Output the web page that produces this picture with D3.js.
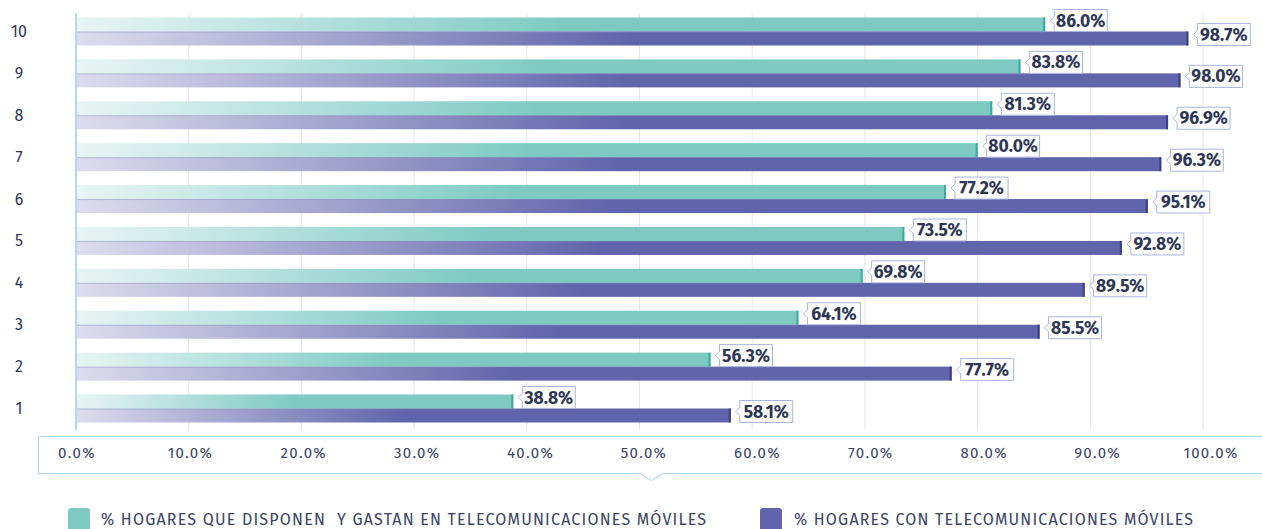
<!DOCTYPE html>
<html>
<head>
<meta charset="utf-8">
<script src="https://cdn.jsdelivr.net/npm/d3@7.9.0/dist/d3.min.js"></script>
<style>
  html, body { margin: 0; padding: 0; background: #fff; }
  svg { display: block; font-family: "Fira Sans", Lato, "Noto Sans", sans-serif; }
</style>
</head>
<body>
<svg id="chart" width="1262" height="529"></svg>
<script>
const categories = ['10', '9', '8', '7', '6', '5', '4', '3', '2', '1'];
const disponenGastan = [86.0, 83.8, 81.3, 80.0, 77.2, 73.5, 69.8, 64.1, 56.3, 38.8];
const conMoviles = [98.7, 98.0, 96.9, 96.3, 95.1, 92.8, 89.5, 85.5, 77.7, 58.1];
const xTicks = [0, 10, 20, 30, 40, 50, 60, 70, 80, 90, 100];
const seriesNames = [
  '% HOGARES QUE DISPONEN  Y GASTAN EN TELECOMUNICACIONES MÓVILES',
  '% HOGARES CON TELECOMUNICACIONES MÓVILES',
];

const teal = '#7ecac3';
const purple = '#6064aa';
const textColor = '#2e3656';

const svg = d3.select('#chart');

const x = d3.scaleLinear().domain([0, 100]).range([76, 1203]);
const y = d3.scalePoint().domain(categories).range([31.5, 408.5]);
const barH = 14;

// gradients
const defs = svg.append('defs');
const grads = [
  { id: 'gTeal', from: '#e8f5f4', to: teal },
  { id: 'gPurple', from: '#dedcee', to: purple },
];
grads.forEach((g) => {
  const lg = defs.append('linearGradient').attr('id', g.id)
    .attr('x1', 0).attr('x2', 1).attr('y1', 0).attr('y2', 0);
  lg.append('stop').attr('offset', 0).attr('stop-color', g.from);
  lg.append('stop').attr('offset', 0.5).attr('stop-color', g.to);
  lg.append('stop').attr('offset', 1).attr('stop-color', g.to);
});

// gridlines
svg.append('g')
  .selectAll('line')
  .data(xTicks.slice(1))
  .join('line')
  .attr('x1', (d) => x(d)).attr('x2', (d) => x(d))
  .attr('y1', 13).attr('y2', 430)
  .attr('stroke', '#e2e5f3').attr('stroke-width', 1);

// bars
const rows = categories.map((c, i) => ({ c, a: disponenGastan[i], b: conMoviles[i] }));
const g = svg.append('g');

g.selectAll('rect.a').data(rows).join('rect')
  .attr('class', 'a')
  .attr('x', x(0)).attr('y', (d) => y(d.c) - barH)
  .attr('width', (d) => x(d.a) - x(0)).attr('height', barH)
  .attr('fill', 'url(#gTeal)');

g.selectAll('rect.b').data(rows).join('rect')
  .attr('class', 'b')
  .attr('x', x(0)).attr('y', (d) => y(d.c))
  .attr('width', (d) => x(d.b) - x(0)).attr('height', barH)
  .attr('fill', 'url(#gPurple)');

// separator + bar ends
g.selectAll('line.sep').data(rows).join('line')
  .attr('class', 'sep')
  .attr('x1', x(0)).attr('x2', (d) => x(d.a))
  .attr('y1', (d) => y(d.c) + 0.5).attr('y2', (d) => y(d.c) + 0.5)
  .attr('stroke', '#7d8fba').attr('stroke-opacity', 0.45);
g.selectAll('line.ea').data(rows).join('line')
  .attr('class', 'ea')
  .attr('x1', (d) => x(d.a) - 1).attr('x2', (d) => x(d.a) - 1)
  .attr('y1', (d) => y(d.c) - barH).attr('y2', (d) => y(d.c))
  .attr('stroke', '#33ad9f').attr('stroke-width', 2);
g.selectAll('line.eb').data(rows).join('line')
  .attr('class', 'eb')
  .attr('x1', (d) => x(d.b) - 1).attr('x2', (d) => x(d.b) - 1)
  .attr('y1', (d) => y(d.c)).attr('y2', (d) => y(d.c) + barH)
  .attr('stroke', '#3b3e8c').attr('stroke-width', 2);

// y axis line
svg.append('line')
  .attr('x1', x(0)).attr('x2', x(0)).attr('y1', 13).attr('y2', 430)
  .attr('stroke', '#b3d7f1').attr('stroke-width', 2);

// y labels
svg.append('g').selectAll('text').data(categories).join('text')
  .attr('x', 19).attr('y', (d) => y(d) + 5.5)
  .attr('text-anchor', 'middle')
  .attr('font-size', 16).attr('fill', textColor)
  .text((d) => d);

// value callouts
function callout(sel, xv, cy) {
  const bx = xv + 9, w = 53, h = 22, top = cy - 11;
  const p = d3.path();
  p.moveTo(bx, top);
  p.lineTo(bx + w, top);
  p.lineTo(bx + w, top + h);
  p.lineTo(bx, top + h);
  p.lineTo(bx, cy + 4);
  p.lineTo(bx - 4, cy);
  p.lineTo(bx, cy - 4);
  p.closePath();
  sel.append('path').attr('d', p.toString())
    .attr('fill', '#fff').attr('stroke', '#a9b4df').attr('stroke-width', 1);
  return bx + w / 2;
}
const labels = svg.append('g');
rows.forEach((d) => {
  [[d.a, y(d.c) - barH / 2 - 4], [d.b, y(d.c) + barH / 2 - 4]].forEach(([v, cy]) => {
    const cx = callout(labels, x(v), cy);
    labels.append('text')
      .attr('x', cx).attr('y', cy + 6)
      .attr('text-anchor', 'middle')
      .attr('font-size', 17.5).attr('font-weight', 700)
      .attr('fill', textColor)
      .text(d3.format('.1f')(v) + '%');
  });
});

// bottom axis box
const axisG = svg.append('g');
const bp = d3.path();
bp.moveTo(1262, 436.5);
bp.lineTo(38.5, 436.5);
bp.lineTo(38.5, 473.5);
bp.lineTo(640, 473.5);
bp.lineTo(651.5, 480.5);
bp.lineTo(663, 473.5);
bp.lineTo(1262, 473.5);
axisG.append('path').attr('d', bp.toString())
  .attr('fill', 'none').attr('stroke', '#a9d3f1').attr('stroke-width', 1);

const tickX = d3.scaleLinear().domain([0, 100]).range([77, 1211]);
axisG.selectAll('text').data(xTicks).join('text')
  .attr('x', (d) => (d === 0 ? x(d) + 1 : tickX(d)))
  .attr('y', 458)
  .attr('text-anchor', 'middle')
  .attr('font-size', 15).attr('fill', '#3b4366')
  .attr('letter-spacing', 1.3)
  .text((d) => d3.format('.1f')(d) + '%');

// legend
const legend = svg.append('g');
const legendItems = [
  { name: seriesNames[0], color: teal, x: 68, tx: 101, tEnd: 706 },
  { name: seriesNames[1], color: purple, x: 760, tx: 794, tEnd: 1193 },
];
legendItems.forEach((it) => {
  legend.append('rect')
    .attr('x', it.x).attr('y', 508).attr('width', 22).attr('height', 24)
    .attr('rx', 3).attr('fill', it.color);
  legend.append('text')
    .attr('x', it.tx).attr('y', 525)
    .attr('font-size', 16).attr('fill', '#3b4366')
    .style('white-space', 'pre')
    .attr('textLength', it.tEnd - it.tx)
    .attr('lengthAdjust', 'spacing')
    .text(it.name);
});
</script>
</body>
</html>
